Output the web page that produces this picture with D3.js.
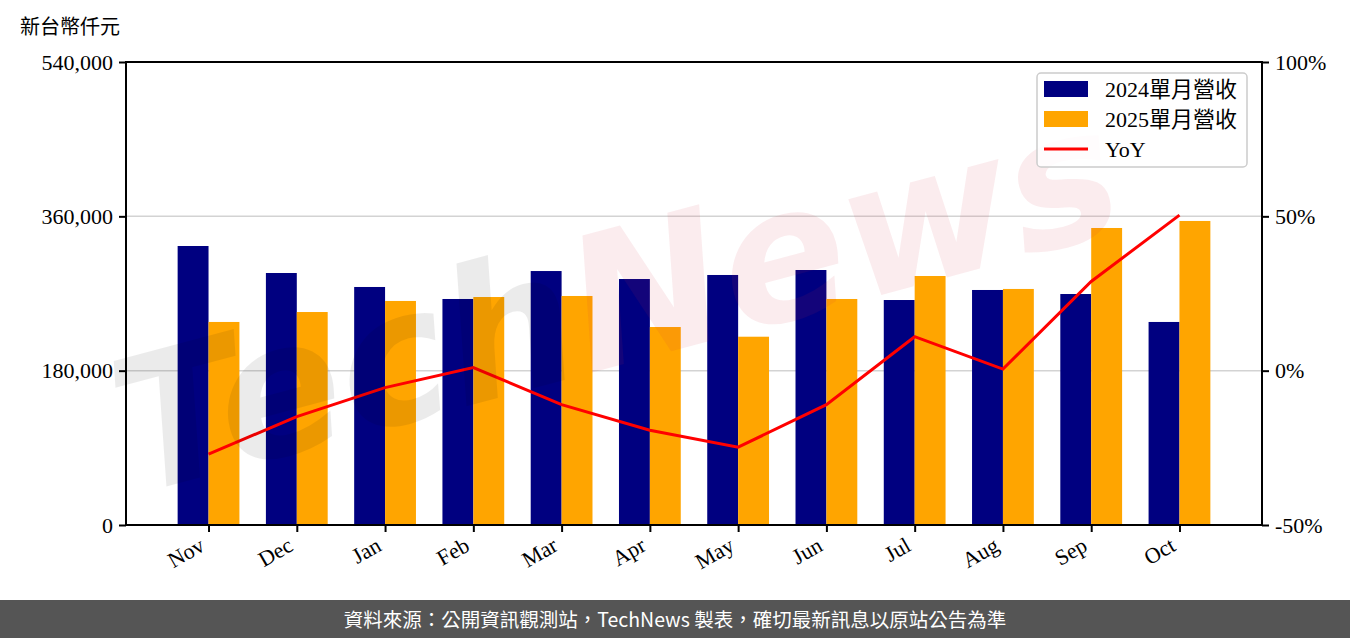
<!DOCTYPE html>
<html><head><meta charset="utf-8">
<script src="https://cdn.jsdelivr.net/npm/d3@7"></script>
<style>body{margin:0;background:#fff;}svg{display:block;}</style>
</head><body>
<svg id="c" width="1350" height="638"></svg>
<script>
const months = ["Nov","Dec","Jan","Feb","Mar","Apr","May","Jun","Jul","Aug","Sep","Oct"];
const rev2024 = [325400,293900,277600,263600,296200,286900,291600,297400,262400,274100,269400,236800];
const rev2025 = [236800,248400,261300,265900,267100,230900,219600,263600,290400,275300,346400,354600];
const yoy = [-27.0,-14.9,-5.5,1.0,-11.0,-19.3,-24.8,-11.0,11.0,0.5,28.9,50.4];
const leftTicks = [0,180000,360000,540000];
const rightTicks = [-50,0,50,100];
const legendLabels = ["2024單月營收","2025單月營收","YoY"];
const colors = {a:"#000080", b:"#FFA500", line:"#FF0000"};

const svg = d3.select("#c");
const L=126, R=1262, T=62, B=525;
const serif = "'Liberation Serif','Noto Sans CJK TC',serif";

const x = d3.scaleLinear().domain([-0.935, 11.935]).range([L, R]);
const y = d3.scaleLinear().domain([0, 540000]).range([B, T]);
const y2 = d3.scaleLinear().domain([-50, 100]).range([B, T]);
const bw = 0.35;

// grid
svg.append("g").selectAll("line").data([180000,360000]).join("line")
  .attr("x1",L).attr("x2",R).attr("y1",d=>y(d)).attr("y2",d=>y(d))
  .attr("stroke","#d3d3d3").attr("stroke-width",1.5);

// bars
svg.append("g").selectAll("rect").data(rev2024).join("rect")
  .attr("x",(d,i)=>x(i-bw)).attr("width",(d,i)=>x(i)-x(i-bw))
  .attr("y",d=>y(d)).attr("height",d=>y(0)-y(d)).attr("fill",colors.a);
svg.append("g").selectAll("rect").data(rev2025).join("rect")
  .attr("x",(d,i)=>x(i)).attr("width",(d,i)=>x(i+bw)-x(i))
  .attr("y",d=>y(d)).attr("height",d=>y(0)-y(d)).attr("fill",colors.b);

// line
svg.append("path").datum(yoy)
  .attr("d", d3.line().x((d,i)=>x(i)).y(d=>y2(d)))
  .attr("fill","none").attr("stroke",colors.line).attr("stroke-width",3);

// watermark
const wm = svg.append("text")
  .attr("transform","translate(135,495) rotate(-15)")
  .attr("font-family","'DejaVu Sans',sans-serif").attr("font-style","italic").attr("font-weight","bold")
  .attr("font-size",185);
wm.append("tspan").text("Tech").attr("fill","#000").attr("fill-opacity",0.08);
wm.append("tspan").text("News").attr("fill","#d03040").attr("fill-opacity",0.09);

// axes
const fmt = d3.format(",");
const ax = svg.append("g").attr("transform",`translate(${L},0)`)
  .call(d3.axisLeft(y).tickValues(leftTicks).tickFormat(fmt).tickSize(7).tickPadding(6));
const ax2 = svg.append("g").attr("transform",`translate(${R},0)`)
  .call(d3.axisRight(y2).tickValues(rightTicks).tickFormat(d=>d+"%").tickSize(7).tickPadding(6));
const axb = svg.append("g").attr("transform",`translate(0,${B})`)
  .call(d3.axisBottom(x).tickValues(d3.range(months.length)).tickFormat(i=>months[i]).tickSize(7).tickPadding(6));
[ax,ax2,axb].forEach(g=>{
  g.select(".domain").remove();
  g.selectAll(".tick line").attr("stroke","#000").attr("stroke-width",2);
  g.selectAll(".tick text").attr("font-family",serif).attr("font-size",22).attr("fill","#000");
});
axb.selectAll(".tick text").attr("text-anchor","end")
  .attr("transform","translate(-16,2) rotate(-30)").attr("dy","0.6em");

// frame
svg.append("rect").attr("x",L).attr("y",T).attr("width",R-L).attr("height",B-T)
  .attr("fill","none").attr("stroke","#000").attr("stroke-width",2);

// unit title
svg.append("text").attr("x",20).attr("y",34).text("新台幣仟元")
  .attr("font-family",serif).attr("font-size",20).attr("fill","#000");

// legend
const lg = svg.append("g");
lg.append("rect").attr("x",1037).attr("y",73).attr("width",210).attr("height",94).attr("rx",4)
  .attr("fill","#fff").attr("fill-opacity",0.85).attr("stroke","#cccccc").attr("stroke-width",1.5);
const rowsY = [89,119,149];
lg.append("rect").attr("x",1044).attr("y",rowsY[0]-8).attr("width",44).attr("height",16).attr("fill",colors.a);
lg.append("rect").attr("x",1044).attr("y",rowsY[1]-8).attr("width",44).attr("height",16).attr("fill",colors.b);
lg.append("line").attr("x1",1044).attr("x2",1088).attr("y1",rowsY[2]).attr("y2",rowsY[2]).attr("stroke",colors.line).attr("stroke-width",3);
lg.selectAll("text.l").data(legendLabels).join("text").attr("class","l")
  .attr("x",1105).attr("y",(d,i)=>rowsY[i]).attr("dy","0.36em").text(d=>d)
  .attr("font-family",serif).attr("font-size",22).attr("fill","#000");

// footer
svg.append("rect").attr("x",0).attr("y",600).attr("width",1350).attr("height",38).attr("fill","#555555");
svg.append("text").attr("x",675).attr("y",620).attr("dy","0.35em").attr("text-anchor","middle")
  .text("資料來源：公開資訊觀測站，TechNews 製表，確切最新訊息以原站公告為準")
  .attr("font-family","'Noto Sans CJK TC',sans-serif").attr("font-size",19.5).attr("fill","#fff");
</script>
</body></html>
